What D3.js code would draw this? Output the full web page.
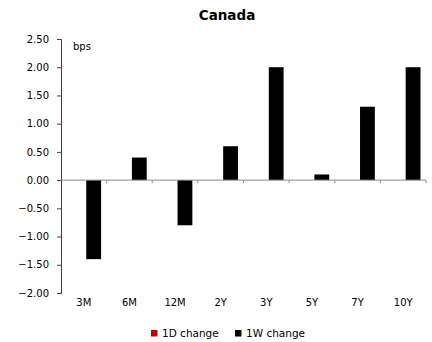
<!DOCTYPE html>
<html>
<head>
<meta charset="utf-8">
<script src="https://cdn.jsdelivr.net/npm/d3@7"></script>
<style>
  html, body { margin: 0; padding: 0; background: #fff; }
  svg { display: block; font-family: "DejaVu Sans", sans-serif; }
</style>
</head>
<body>
<svg id="chart" width="432" height="342"></svg>
<script>
// Canada curve: change in bps by tenor
const categories = ["3M", "6M", "12M", "2Y", "3Y", "5Y", "7Y", "10Y"];
const seriesNames = ["1D change", "1W change"];
const oneDayChange = [0, 0, 0, 0, 0, 0, 0, 0];
const oneWeekChange = [-1.4, 0.4, -0.8, 0.6, 2.0, 0.1, 1.3, 2.0];
const yTicks = [-2.0, -1.5, -1.0, -0.5, 0.0, 0.5, 1.0, 1.5, 2.0, 2.5];
const seriesColors = ["#c00000", "#000000"];

const svg = d3.select("#chart");
const plotLeft = 61, plotRight = 426, plotTop = 39, plotBottom = 293;

const y = d3.scaleLinear().domain([-2.0, 2.5]).range([plotBottom, plotTop]);
const x0 = d3.scaleBand().domain(categories).range([plotLeft, plotRight]).padding(0);
const x1 = d3.scaleBand().domain(seriesNames).range([0, x0.bandwidth()])
  .paddingInner(0.25).paddingOuter(0.28);

const seriesValues = [oneDayChange, oneWeekChange];

// Title
svg.append("text")
  .attr("x", 227).attr("y", 20)
  .attr("text-anchor", "middle")
  .attr("font-size", 13.5).attr("font-weight", "bold")
  .attr("fill", "#000")
  .text("Canada");

// Unit label
svg.append("text")
  .attr("x", 73).attr("y", 50)
  .attr("font-size", 10)
  .attr("fill", "#000")
  .text("bps");

// Bars
const groups = svg.append("g").selectAll("g")
  .data(categories)
  .join("g")
  .attr("transform", d => `translate(${x0(d)},0)`);

groups.selectAll("rect")
  .data((c, i) => seriesNames.map((s, k) => ({ s, v: seriesValues[k][i], k })))
  .join("rect")
  .attr("x", d => x1(d.s))
  .attr("width", x1.bandwidth())
  .attr("y", d => y(Math.max(0, d.v)))
  .attr("height", d => Math.abs(y(d.v) - y(0)))
  .attr("fill", d => seriesColors[d.k]);

// Y axis
const yAxis = svg.append("g")
  .attr("transform", `translate(${plotLeft},0)`)
  .call(d3.axisLeft(y).tickValues(yTicks).tickFormat(d3.format(".2f")).tickSizeOuter(0).tickSize(4).tickPadding(8));
yAxis.select(".domain").attr("stroke", "#404040");
yAxis.selectAll(".tick line").attr("stroke", "#404040");
yAxis.selectAll(".tick text")
  .attr("font-size", 10).attr("fill", "#000")
  .attr("font-family", "\"DejaVu Sans\", sans-serif");

// X axis along zero with tick marks between categories
const xAxisG = svg.append("g").attr("transform", `translate(0,${y(0)})`);
xAxisG.append("line")
  .attr("x1", plotLeft).attr("x2", plotRight)
  .attr("stroke", "#8c8c8c").attr("stroke-width", 1);
const boundaries = categories.map(c => x0(c) + x0.bandwidth());
xAxisG.selectAll("line.tick")
  .data(boundaries)
  .join("line")
  .attr("class", "tick")
  .attr("x1", d => d).attr("x2", d => d)
  .attr("y1", 0).attr("y2", 3)
  .attr("stroke", "#8c8c8c");

// Category labels below the plot
svg.append("g").selectAll("text")
  .data(categories)
  .join("text")
  .attr("x", d => x0(d) + x0.bandwidth() / 2)
  .attr("y", 306)
  .attr("text-anchor", "middle")
  .attr("font-size", 10)
  .attr("fill", "#000")
  .text(d => d);

// Legend
const legendItems = [
  { name: seriesNames[0], color: seriesColors[0], x: 151 },
  { name: seriesNames[1], color: seriesColors[1], x: 235 }
];
const lg = svg.append("g").selectAll("g")
  .data(legendItems)
  .join("g")
  .attr("transform", d => `translate(${d.x},330)`);
lg.append("rect").attr("width", 6.5).attr("height", 6.5).attr("fill", d => d.color);
lg.append("text")
  .attr("x", 11).attr("y", 7)
  .attr("font-size", 10.5)
  .attr("fill", "#000")
  .text(d => d.name);
</script>
</body>
</html>
